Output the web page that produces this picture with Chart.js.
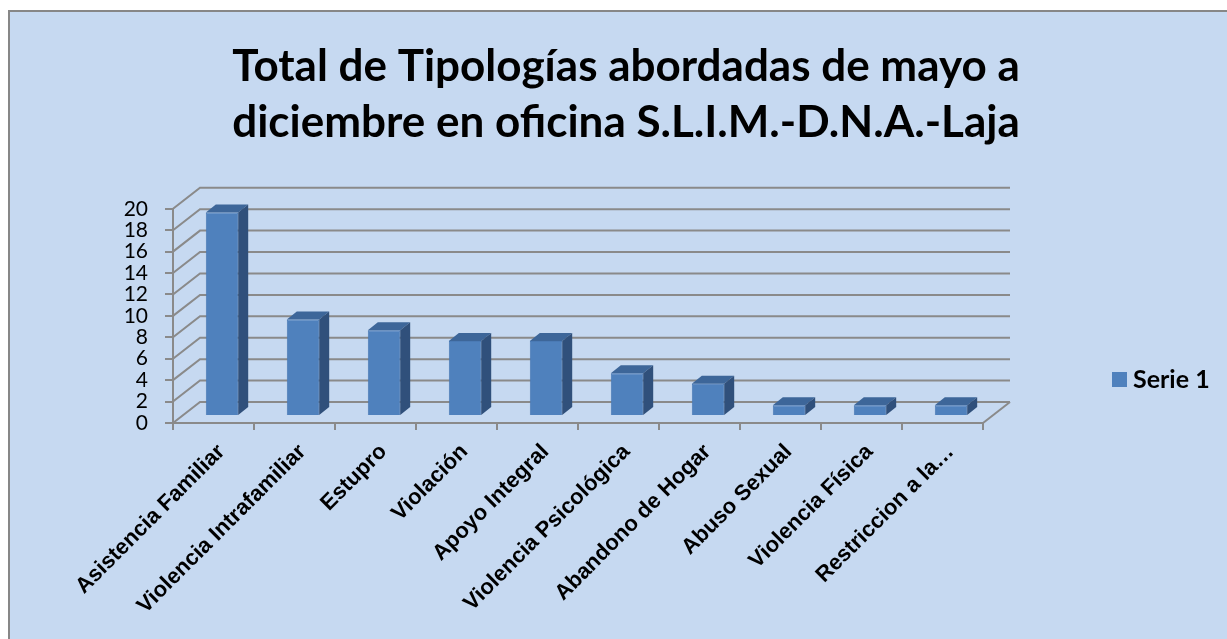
<!DOCTYPE html>
<html>
<head>
<meta charset="utf-8">
<script src="https://cdn.jsdelivr.net/npm/chart.js@4.4.0/dist/chart.umd.min.js"></script>
<style>
  html, body { margin: 0; padding: 0; background: #fff; }
  #wrap { width: 1227px; height: 639px; }
</style>
</head>
<body>
<div id="wrap"><canvas id="chart" width="1227" height="639"></canvas></div>
<script>
const categories = ['Asistencia Familiar', 'Violencia Intrafamiliar', 'Estupro', 'Violación', 'Apoyo Integral',
    'Violencia Psicológica', 'Abandono de Hogar', 'Abuso Sexual', 'Violencia Física', 'Restriccion a la…'];
const serie1 = [19, 9, 8, 7, 7, 4, 3, 1, 1, 1];
const seriesName = 'Serie 1';
const titleLines = ['Total de Tipologías abordadas de mayo a', 'diciembre en oficina S.L.I.M.-D.N.A.-Laja'];
const yMin = 0;
const yMax = 20;
const yStep = 2;

// 3d look: back wall offset, bar shift into the depth, bar thickness
const WALL_DX = 27, WALL_DY = 21;
const BAR_DX = 8.5, BAR_DY = 7;
const DEPTH_X = 10, DEPTH_Y = 8;
const GRID_COLOR = '#8a8a8a';

const frame3d = {
    id: 'frame3d',
    beforeDraw(chart) {
        const ctx = chart.ctx;
        ctx.save();
        ctx.fillStyle = '#ffffff';
        ctx.fillRect(0, 0, chart.width, chart.height);
        ctx.fillStyle = '#c6d9f1';
        ctx.fillRect(9, 11, chart.width, chart.height);
        ctx.strokeStyle = '#878787';
        ctx.lineWidth = 2;
        ctx.strokeRect(9, 11, chart.width + 10, chart.height + 10);
        ctx.restore();
    },
    beforeDatasetsDraw(chart) {
        const ctx = chart.ctx;
        const { left, right, bottom } = chart.chartArea;
        const y = chart.scales.y;
        ctx.save();
        ctx.strokeStyle = GRID_COLOR;
        ctx.lineWidth = 2;
        y.ticks.forEach(t => {
            const py = y.getPixelForValue(t.value);
            ctx.beginPath();
            ctx.moveTo(left, py);
            ctx.lineTo(left + WALL_DX, py - WALL_DY);
            ctx.lineTo(right + WALL_DX, py - WALL_DY);
            ctx.stroke();
        });
        ctx.beginPath();
        ctx.moveTo(right, bottom);
        ctx.lineTo(right + WALL_DX, bottom - WALL_DY);
        ctx.stroke();
        ctx.restore();

        // push the bars back a little, like they stand in the middle of the floor
        ctx.save();
        ctx.translate(BAR_DX, -BAR_DY);
    },
    afterDatasetsDraw(chart) {
        const ctx = chart.ctx;
        ctx.restore();
        const meta = chart.getDatasetMeta(0);
        ctx.save();
        meta.data.forEach(bar => {
            const x0 = bar.x - bar.width / 2 + BAR_DX;
            const x1 = bar.x + bar.width / 2 + BAR_DX;
            const top = bar.y - BAR_DY;
            const base = bar.base - BAR_DY;
            // top face
            ctx.fillStyle = '#3d6699';
            ctx.beginPath();
            ctx.moveTo(x0, top);
            ctx.lineTo(x0 + DEPTH_X, top - DEPTH_Y);
            ctx.lineTo(x1 + DEPTH_X, top - DEPTH_Y);
            ctx.lineTo(x1, top);
            ctx.closePath();
            ctx.fill();
            // side face
            ctx.fillStyle = '#30507b';
            ctx.beginPath();
            ctx.moveTo(x1, top);
            ctx.lineTo(x1 + DEPTH_X, top - DEPTH_Y);
            ctx.lineTo(x1 + DEPTH_X, base - DEPTH_Y);
            ctx.lineTo(x1, base);
            ctx.closePath();
            ctx.fill();
        });
        ctx.restore();
    },
    afterDraw(chart) {
        // legend on the right
        const ctx = chart.ctx;
        const ds = chart.data.datasets[0];
        ctx.save();
        ctx.fillStyle = ds.backgroundColor;
        ctx.fillRect(1112, 372, 15, 15);
        ctx.fillStyle = '#000';
        ctx.font = 'bold 25px Lato';
        ctx.textBaseline = 'middle';
        ctx.fillText(ds.label, 1133, 380);
        ctx.restore();
    }
};

new Chart(document.getElementById('chart'), {
    type: 'bar',
    data: {
        labels: categories,
        datasets: [{
            label: seriesName,
            data: serie1,
            backgroundColor: '#4f81bd',
            borderColor: '#4a7ab5',
            borderWidth: 1,
            barPercentage: 0.8,
            categoryPercentage: 0.5
        }]
    },
    options: {
        responsive: false,
        animation: false,
        layout: { padding: { left: 25, right: 0, top: 0, bottom: 0 } },
        plugins: {
            legend: { display: false },
            tooltip: { enabled: false },
            title: {
                display: true,
                text: titleLines,
                color: '#000',
                font: { family: 'Lato', size: 44, weight: 'bold', lineHeight: 1.27 },
                padding: { top: 39, bottom: 58 }
            }
        },
        scales: {
            x: {
                grid: { drawOnChartArea: false, drawTicks: true, tickLength: 7, color: GRID_COLOR, lineWidth: 2 },
                border: { display: true, color: GRID_COLOR, width: 2 },
                ticks: {
                    color: '#000',
                    font: { family: 'Liberation Sans', size: 22, weight: 'bold' },
                    minRotation: 45,
                    maxRotation: 45,
                    autoSkip: false,
                    labelOffset: 8,
                    padding: 9
                },
                afterFit(scale) { scale.height = 216; }
            },
            y: {
                min: yMin,
                max: yMax,
                grid: { drawOnChartArea: false, drawTicks: true, tickLength: 8, color: GRID_COLOR, lineWidth: 2 },
                border: { display: true, color: GRID_COLOR, width: 2 },
                ticks: {
                    stepSize: yStep,
                    autoSkip: false,
                    color: '#000',
                    font: { family: 'Lato', size: 21 },
                    padding: 17
                },
                afterFit(scale) { scale.width = 148; }
            },
            spacer: {
                position: 'right',
                grid: { display: false },
                border: { display: false },
                ticks: { display: false },
                afterFit(scale) { scale.width = 244; }
            }
        }
    },
    plugins: [frame3d]
});
</script>
</body>
</html>
